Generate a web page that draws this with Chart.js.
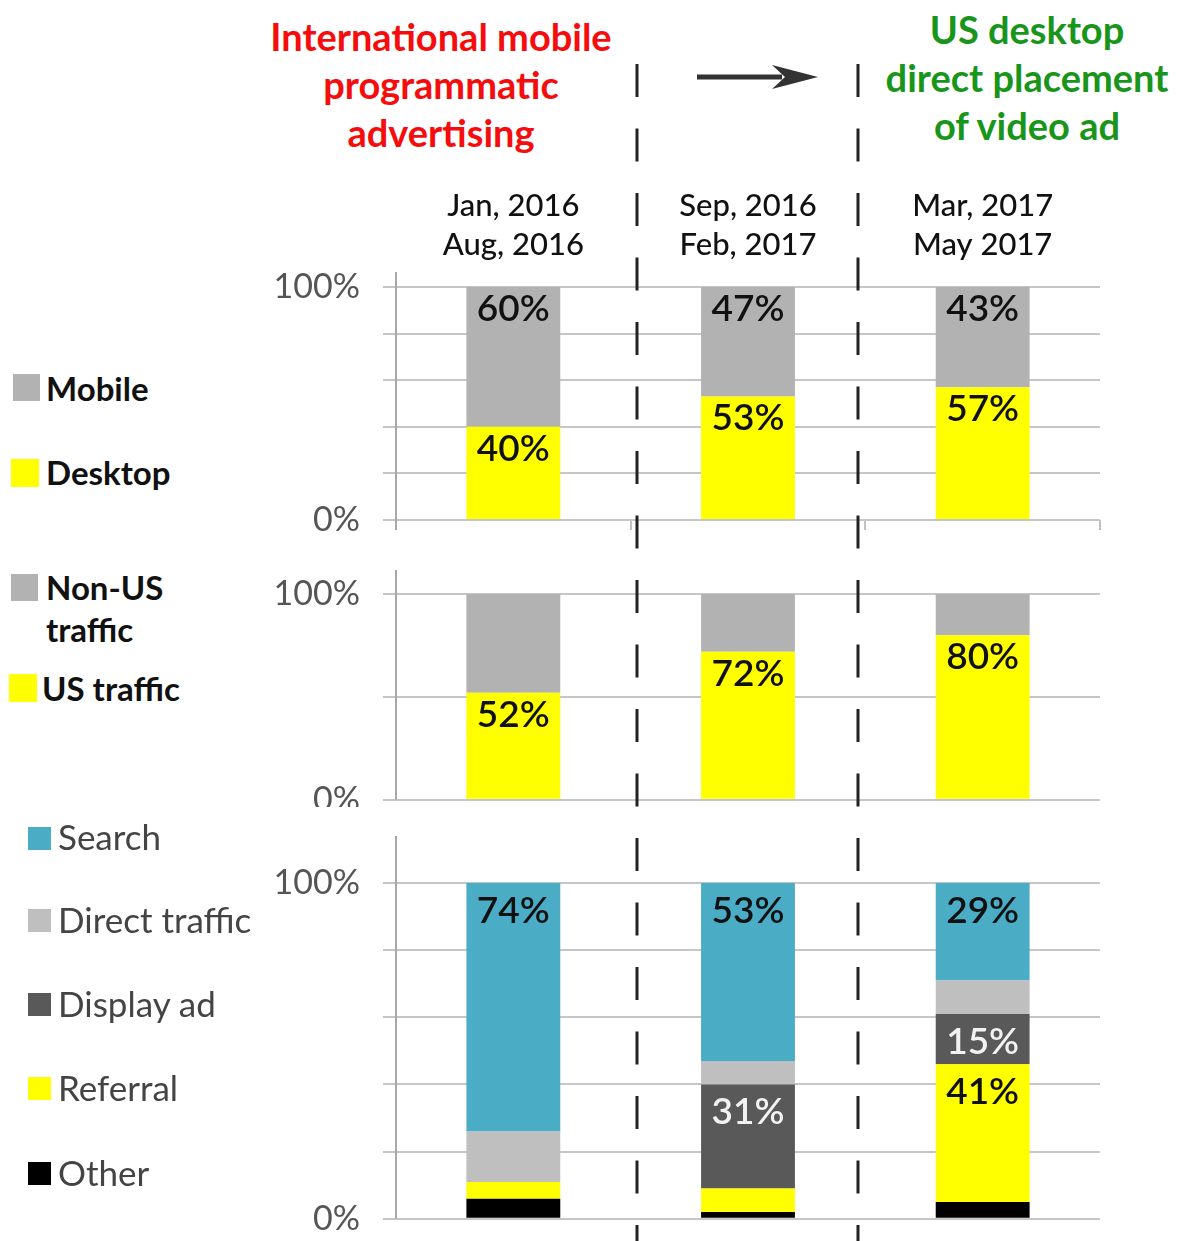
<!DOCTYPE html>
<html><head><meta charset="utf-8">
<script src="https://cdn.jsdelivr.net/npm/chart.js@4.4.1/dist/chart.umd.min.js"></script>
<style>
html,body{margin:0;padding:0;background:#fff;}
#root{position:relative;width:1178px;height:1241px;overflow:hidden;font-family:Lato,'Open Sans',sans-serif;background:#fff;}
.abs{position:absolute;}
.wrap{position:absolute;overflow:hidden;}
.hdr{position:absolute;text-align:center;font-weight:bold;font-size:38px;line-height:48px;white-space:nowrap;}
.lgT{position:absolute;white-space:normal;}
#overlay{position:absolute;left:0;top:0;pointer-events:none;}
canvas{display:block;}
</style></head><body>
<div id="root">
  <div class="hdr" style="left:241px;top:12px;width:400px;color:#f50d0d;">International mobile<br>programmatic<br>advertising</div>
  <div class="hdr" style="left:877px;top:5px;width:300px;color:#18951a;">US desktop<br>direct placement<br>of video ad</div>
  <div class="wrap" style="left:260px;top:180px;width:845px;height:365px"><canvas id="c1" width="845" height="365"></canvas></div>
  <div class="wrap" style="left:260px;top:555px;width:845px;height:252px"><canvas id="c2" width="845" height="268"></canvas></div>
  <div class="wrap" style="left:260px;top:812px;width:845px;height:430px"><canvas id="c3" width="845" height="430"></canvas></div>
  <div id="legends"></div>
  <svg id="overlay" width="1178" height="1241">
    <line x1="637" y1="64" x2="637" y2="1241" stroke="#222" stroke-width="3" stroke-dasharray="33 31.5"/>
    <line x1="858" y1="64" x2="858" y2="1241" stroke="#222" stroke-width="3" stroke-dasharray="33 31.5"/>
    <line x1="697" y1="77" x2="782" y2="77" stroke="#333" stroke-width="5"/>
    <polygon points="818,77 772,65 785,77 772,89" fill="#333"/>
  </svg>
</div>
<script>
// ---------- data ----------
const periods = [['Jan, 2016','Aug, 2016'],['Sep, 2016','Feb, 2017'],['Mar, 2017','May 2017']];

const deviceNames = ['Mobile','Desktop'];
const mobileShare  = [60,47,43];
const desktopShare = [40,53,57];

const regionNames = ['Non-US traffic','US traffic'];
const nonUsShare = [48,28,20];
const usShare    = [52,72,80];

const sourceNames = ['Search','Direct traffic','Display ad','Referral','Other'];
const searchShare   = [74,53,29];
const directShare   = [15,7,10];
const displayShare  = [0,31,15];
const referralShare = [5,7,41];
const otherShare    = [6,2,5];

const yTickLabels = [0,100];   // only these tick values carry a label

// which segments carry a value label
const mobileLabelled = [true,true,true], desktopLabelled = [true,true,true];
const nonUsLabelled = [false,false,false], usLabelled = [true,true,true];
const searchLabelled = [true,true,true], directLabelled = [false,false,false];
const displayLabelled = [false,true,true], referralLabelled = [false,false,true], otherLabelled = [false,false,false];

// ---------- styles ----------
const C = {grey:'#b2b2b2', yellow:'#ffff00', search:'#4bacc6', direct:'#bfbfbf', display:'#595959', other:'#000000'};

Chart.defaults.font.family = 'Lato, "Open Sans", sans-serif';
Chart.defaults.animation = false;

const segLabels = {
  id:'segLabels',
  afterDatasetsDraw(chart, args, o){
    const ctx = chart.ctx, a = chart.chartArea;
    ctx.save();
    ctx.strokeStyle = '#a8a8a8'; ctx.lineWidth = 2;
    ctx.beginPath(); ctx.moveTo(a.left, a.top - o.axisUp); ctx.lineTo(a.left, a.bottom + o.axisDown); ctx.stroke();
    ctx.font = '600 37px Lato, sans-serif';
    ctx.textAlign = 'center'; ctx.textBaseline = 'middle';
    chart.data.datasets.forEach((ds, di) => {
      if (!ds.labelled) return;
      chart.getDatasetMeta(di).data.forEach((bar, i) => {
        if (!ds.labelled[i] || !ds.data[i]) return;
        ctx.fillStyle = ds.labelColor || '#111';
        ctx.fillText(ds.data[i] + '%', bar.x, Math.min(bar.y, bar.base) + o.offset);
      });
    });
    ctx.restore();
  }
};

function yScale(step){
  return {
    stacked:true, min:0, max:100,
    afterFit(s){ s.width = 136; },
    border:{display:false},
    grid:{color:'#c6c6c6', lineWidth:2, tickLength:13},
    ticks:{stepSize:step, padding:23, color:'#555',
      font:{size:34, weight:'normal', lineHeight:0.01},
      callback:(v)=> yTickLabels.includes(v) ? v + '%' : ''}
  };
}

function makeChart(id, datasets, step, opts){
  const scales = {
    x:{stacked:true, display: opts.bottomTicks,
       afterFit(s){ s.height = opts.bottomTicks ? 12 : 0; },
       border:{display:false},
       grid:{display:true, offset:true, drawOnChartArea:false, drawTicks:true, tickLength:10, color:'#c0c0c0', lineWidth:2},
       ticks:{display:false}},
    y: yScale(step)
  };
  if (opts.topLabels){
    scales.xTop = {type:'category', position:'top', display:true,
      afterFit(s){ s.height = 107; },
      border:{display:false}, grid:{display:false, drawTicks:false},
      ticks:{padding:22, color:'#111', font:{size:31, weight:500, lineHeight:1.26}}};
  }
  return new Chart(document.getElementById(id), {
    type:'bar',
    data:{labels:periods, datasets},
    options:{
      responsive:false, events:[],
      datasets:{bar:{categoryPercentage:0.4, barPercentage:1, borderWidth:0}},
      layout:{padding:opts.padding},
      plugins:{legend:{display:false}, tooltip:{enabled:false},
        segLabels:{axisUp:opts.axisUp, axisDown:opts.axisDown, offset:opts.offset}},
      scales
    },
    plugins:[segLabels]
  });
}

makeChart('c1', [
  {label:deviceNames[1], data:desktopShare, backgroundColor:C.yellow, labelled:desktopLabelled},
  {label:deviceNames[0], data:mobileShare, backgroundColor:C.grey, labelled:mobileLabelled}
], 20, {padding:{top:0,right:5,bottom:13,left:0}, axisUp:15, axisDown:10, offset:22, bottomTicks:true, topLabels:true});

makeChart('c2', [
  {label:regionNames[1], data:usShare, backgroundColor:C.yellow, labelled:usLabelled},
  {label:regionNames[0], data:nonUsShare, backgroundColor:C.grey, labelled:nonUsLabelled}
], 50, {padding:{top:39,right:5,bottom:23,left:0}, axisUp:24, axisDown:0, offset:22, bottomTicks:false});

makeChart('c3', [
  {label:sourceNames[4], data:otherShare, backgroundColor:C.other, labelled:otherLabelled},
  {label:sourceNames[3], data:referralShare, backgroundColor:C.yellow, labelled:referralLabelled},
  {label:sourceNames[2], data:displayShare, backgroundColor:C.display, labelled:displayLabelled, labelColor:'#f2f2f2'},
  {label:sourceNames[1], data:directShare, backgroundColor:C.direct, labelled:directLabelled},
  {label:sourceNames[0], data:searchShare, backgroundColor:C.search, labelled:searchLabelled}
], 20, {padding:{top:71,right:5,bottom:23,left:0}, axisUp:47, axisDown:0, offset:28, bottomTicks:false});

// ---------- legends (HTML) ----------
const legendItems = [
  {name:deviceNames[0], color:C.grey,   sq:[13,374,27], tx:46, cy:388, style:'bold'},
  {name:deviceNames[1], color:C.yellow, sq:[11,459,28], tx:46, cy:472, style:'bold'},
  {name:regionNames[0], color:C.grey,   sq:[11,574,27], tx:46, cy:587, style:'bold'},
  {name:regionNames[1], color:C.yellow, sq:[9,674,28],  tx:42, cy:688, style:'bold'},
  {name:sourceNames[0], color:C.search, sq:[28,827,23], tx:58, cy:836, style:'reg'},
  {name:sourceNames[1], color:C.direct, sq:[28,909,23], tx:58, cy:919, style:'reg'},
  {name:sourceNames[2], color:C.display,sq:[28,993,23], tx:58, cy:1003, style:'reg'},
  {name:sourceNames[3], color:C.yellow, sq:[28,1077,23],tx:58, cy:1087, style:'reg'},
  {name:sourceNames[4], color:C.other,  sq:[28,1162,23],tx:58, cy:1172, style:'reg'}
];
const lg = document.getElementById('legends');
legendItems.forEach(it => {
  const s = document.createElement('div');
  s.className = 'abs';
  Object.assign(s.style, {left:it.sq[0]+'px', top:it.sq[1]+'px', width:it.sq[2]+'px', height:it.sq[2]+'px', background:it.color});
  lg.appendChild(s);
  const t = document.createElement('div');
  t.className = 'lgT';
  const bold = it.style === 'bold';
  const lh = bold ? 42 : 40;
  Object.assign(t.style, {left:it.tx+'px', top:(it.cy - lh/2)+'px', width: bold ? '160px' : '240px',
    lineHeight:lh+'px', fontSize: bold ? '33px' : '35px', fontWeight: bold ? 'bold' : 'normal',
    color: bold ? '#111' : '#444'});
  t.textContent = it.name;
  lg.appendChild(t);
});
</script>
</body></html>
